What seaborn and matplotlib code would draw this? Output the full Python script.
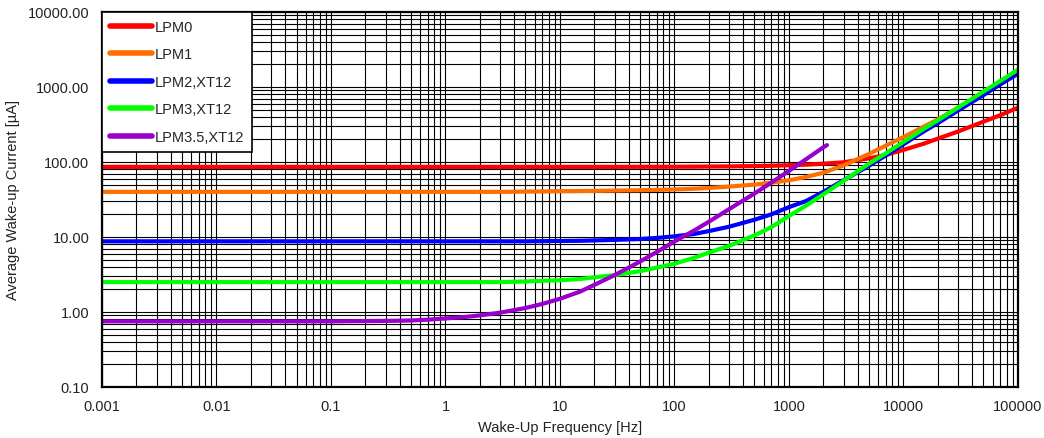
import matplotlib
matplotlib.use('Agg')
import matplotlib.pyplot as plt
from matplotlib.ticker import FixedLocator, FixedFormatter, LogLocator
import numpy as np
import pandas as pd
import seaborn as sns

# Wake-up frequency points [Hz]
freq = [0.001, 0.01, 0.1, 0.3, 1, 2, 3, 5, 7, 10, 15, 20, 30, 50, 70, 100,
        150, 200, 300, 500, 700, 1000, 1400, 2000, 3000, 5000, 7000, 10000,
        15000, 20000, 30000, 50000, 70000, 100000]

# Average wake-up current [uA]
lpm0 = [86, 86, 86, 86, 86, 86, 86, 86, 86, 86, 86, 86, 86, 86.2, 86.3, 86.4,
        86.6, 86.9, 87.3, 88.2, 89, 90.5, 92, 95, 99, 112, 124, 145,
        175, 205, 255, 345, 420, 530]
lpm1 = [40, 40, 40, 40, 40, 40, 40, 40.3, 40.5, 40.8, 41, 41.2, 41.6, 42, 42.5, 43,
        44, 45, 47, 50, 53, 57, 63, 72, 90, 128, 165, 215,
        295, 370, 530, 850, 1180, 1650]
lpm2 = [8.75, 8.75, 8.75, 8.75, 8.75, 8.75, 8.75, 8.75, 8.8, 8.85, 8.9, 9.0, 9.15, 9.4, 9.7, 10.2,
        11, 12, 13.7, 17, 20, 25, 30, 40, 57, 89, 122, 172,
        255, 330, 485, 780, 1080, 1500]
lpm3 = [2.5, 2.5, 2.5, 2.5, 2.5, 2.5, 2.5, 2.55, 2.6, 2.65, 2.75, 2.9, 3.1, 3.5, 3.9, 4.4,
        5.3, 6.2, 7.6, 10.5, 13.5, 19, 26, 37, 56, 95, 130, 185,
        275, 360, 530, 870, 1200, 1700]

freq_35 = [0.001, 0.01, 0.1, 0.3, 0.5, 0.7, 1, 1.5, 2, 3, 5, 7, 10, 15, 20, 30,
           50, 70, 100, 150, 200, 300, 500, 700, 1000, 1400, 2000, 2150]
lpm35 = [0.75, 0.75, 0.75, 0.76, 0.77, 0.79, 0.82, 0.86, 0.9, 0.98, 1.13, 1.28, 1.5, 1.87, 2.3, 3.1,
         4.7, 6.3, 8.7, 12.3, 16, 23.5, 38, 53, 76, 108, 157, 168]

labels = ['LPM0', 'LPM1', 'LPM2,XT12', 'LPM3,XT12', 'LPM3.5,XT12']
colors = ['#FF0000', '#FF6F00', '#0000FF', '#00FF00', '#9900CC']

xticks = [0.001, 0.01, 0.1, 1, 10, 100, 1000, 10000, 100000]
xtick_labels = ['0.001', '0.01', '0.1', '1', '10', '100', '1000', '10000', '100000']
yticks = [0.1, 1, 10, 100, 1000, 10000]
ytick_labels = ['0.10', '1.00', '10.00', '100.00', '1000.00', '10000.00']

frames = []
for lab, x, y in zip(labels, [freq, freq, freq, freq, freq_35],
                     [lpm0, lpm1, lpm2, lpm3, lpm35]):
    frames.append(pd.DataFrame({'freq': x, 'current': y, 'mode': lab}))
df = pd.concat(frames, ignore_index=True)

sns.set_style('white')
plt.rcParams['font.family'] = ['Liberation Sans', 'DejaVu Sans']

fig = plt.figure(figsize=(10.44, 4.39), dpi=100)
ax = fig.add_axes([0.0977, 0.1162, 0.8773, 0.8542])

sns.lineplot(data=df, x='freq', y='current', hue='mode', hue_order=labels,
             palette=colors, estimator=None, sort=True, linewidth=3.0, ax=ax)

ax.set_xscale('log')
ax.set_yscale('log')
ax.set_xlim(0.001, 100000)
ax.set_ylim(0.1, 10000)

ax.xaxis.set_major_locator(FixedLocator(xticks))
ax.xaxis.set_major_formatter(FixedFormatter(xtick_labels))
ax.yaxis.set_major_locator(FixedLocator(yticks))
ax.yaxis.set_major_formatter(FixedFormatter(ytick_labels))
ax.xaxis.set_minor_locator(LogLocator(base=10, subs=np.arange(2, 10), numticks=20))
ax.yaxis.set_minor_locator(LogLocator(base=10, subs=np.arange(2, 10), numticks=20))

ax.grid(True, which='both', color='black', linewidth=0.8)
ax.set_axisbelow(True)
ax.tick_params(which='both', length=0, labelsize=10.5, colors='#222222')
ax.tick_params(axis='y', pad=9)
ax.tick_params(axis='x', pad=9)
for s in ax.spines.values():
    s.set_color('black')
    s.set_linewidth(1.6)

ax.set_xlabel('Wake-Up Frequency [Hz]', fontsize=10.5, color='#222222', labelpad=5)
ax.set_ylabel('Average Wake-up Current [µA]', fontsize=10.5, color='#222222', labelpad=6)

handles, labs = ax.get_legend_handles_labels()
ax.legend(handles, labs, loc='upper left', fontsize=10.5, frameon=True,
          fancybox=False, framealpha=1, edgecolor='black', borderaxespad=0,
          handlelength=2.9, handletextpad=0.15, labelspacing=0.92,
          borderpad=0.55)
ax.get_legend().get_frame().set_linewidth(1.2)
for line in ax.get_legend().get_lines():
    line.set_linewidth(4)

fig.savefig('out.png', dpi=100, facecolor='white')
